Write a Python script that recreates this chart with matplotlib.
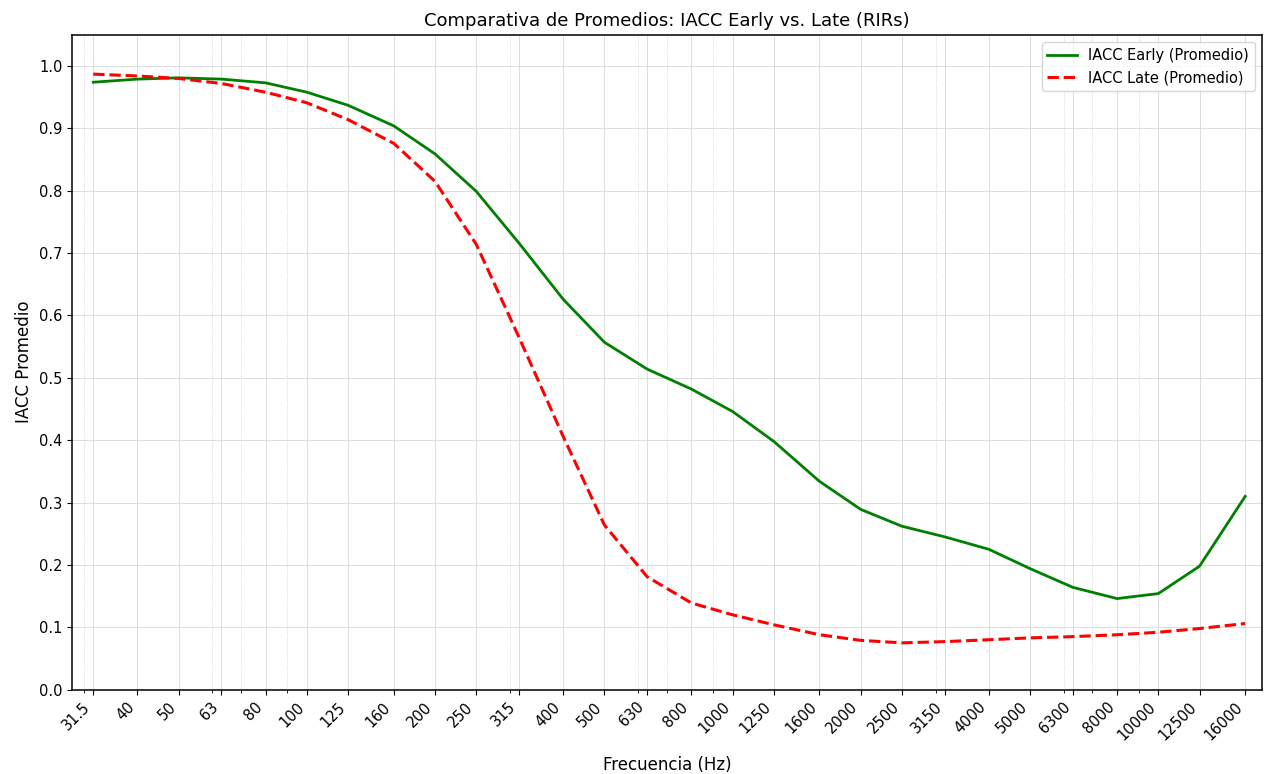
import numpy as np
import matplotlib
matplotlib.use("Agg")
import matplotlib.pyplot as plt

# bandas de tercio de octava
freqs = [31.5, 40, 50, 63, 80, 100, 125, 160, 200, 250, 315, 400, 500, 630,
         800, 1000, 1250, 1600, 2000, 2500, 3150, 4000, 5000, 6300, 8000,
         10000, 12500, 16000]
freq_labels = ["31.5", "40", "50", "63", "80", "100", "125", "160", "200",
               "250", "315", "400", "500", "630", "800", "1000", "1250",
               "1600", "2000", "2500", "3150", "4000", "5000", "6300",
               "8000", "10000", "12500", "16000"]

iacc_early = [0.974, 0.979, 0.981, 0.979, 0.973, 0.958, 0.937, 0.904, 0.859,
              0.799, 0.716, 0.626, 0.557, 0.514, 0.482, 0.446, 0.398, 0.334,
              0.289, 0.262, 0.245, 0.225, 0.194, 0.164, 0.146, 0.154, 0.198,
              0.310]
iacc_late = [0.987, 0.984, 0.980, 0.972, 0.958, 0.941, 0.914, 0.876, 0.815,
             0.714, 0.565, 0.406, 0.264, 0.181, 0.139, 0.120, 0.104, 0.088,
             0.079, 0.075, 0.077, 0.080, 0.083, 0.085, 0.088, 0.092, 0.098,
             0.106]

fig, ax = plt.subplots(figsize=(12.66, 7.74), dpi=100)
fig.subplots_adjust(left=0.057, right=0.997, top=0.955, bottom=0.109)

ax.plot(freqs, iacc_early, color="green", linewidth=2, label="IACC Early (Promedio)")
ax.plot(freqs, iacc_late, color="red", linestyle="--", linewidth=2.2,
        label="IACC Late (Promedio)")

ax.set_xscale("log")
ax.set_xticks(freqs)
ax.set_xticklabels(freq_labels, rotation=45, ha="right", fontsize=10.5)
ax.tick_params(axis="y", labelsize=10.5)
ax.set_xlim(28.1, 17540)
ax.set_ylim(0, 1.05)
ax.set_yticks(np.arange(0, 1.01, 0.1))
for sp in ax.spines.values():
    sp.set_linewidth(1.1)

ax.grid(True, which="major", linestyle="-", linewidth=0.6, color="#d8d8d8")
ax.grid(True, which="minor", linestyle=":", linewidth=0.6, color="#cfcfcf")

ax.set_title("Comparativa de Promedios: IACC Early vs. Late (RIRs)", fontsize=13)
ax.set_xlabel("Frecuencia (Hz)", fontsize=12, labelpad=9)
ax.set_ylabel("IACC Promedio", fontsize=12)
ax.legend(loc="upper right", fontsize=10.5)

fig.savefig("out.png", dpi=100)
